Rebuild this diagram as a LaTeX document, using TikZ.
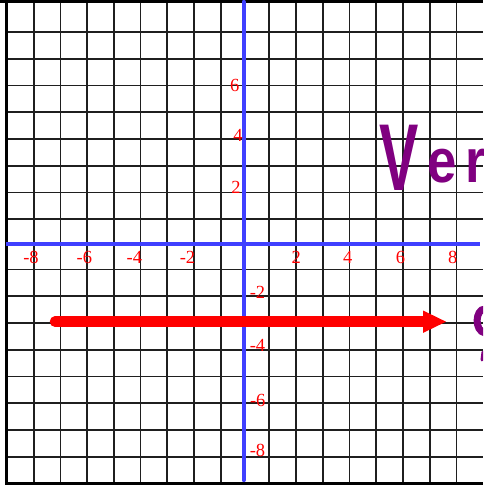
\documentclass[tikz,border=0pt]{standalone}
\usepackage{graphicx}
\usepackage{fontspec}
\setmainfont{Liberation Serif}
\newfontfamily\handfont{Liberation Sans}
\definecolor{axisblue}{RGB}{64,64,255}
\definecolor{inkpurple}{RGB}{128,0,128}
\begin{document}
\begin{tikzpicture}[x=1pt,y=-1pt,
  gridline/.style={line width=1.8pt, black!88},
  border/.style={line width=2.8pt, black},
  axisline/.style={line width=4.3pt, axisblue},
  lbl/.style={text=red, font=\fontsize{18.5}{18.5}\selectfont, inner sep=0pt, anchor=base},
  ink/.style={draw=inkpurple, line width=7pt, line cap=round}]
\useasboundingbox (0,0) rectangle (483,486);
\fill[white] (0,0) rectangle (483,486);
\begin{scope}
\clip (0,0) rectangle (483,486);
% vertical grid lines
\foreach \k in {1,...,8} \draw[gridline] ({7+26.71*\k},0) -- ({7+26.71*\k},484);
\foreach \k in {0,...,7} \draw[gridline] ({269.3+26.75*\k},0) -- ({269.3+26.75*\k},484);
% horizontal grid lines
\foreach \k in {0,...,7} \draw[gridline] (6.7,{32+26.76*\k}) -- (483,{32+26.76*\k});
\foreach \k in {0,...,7} \draw[gridline] (6.7,{269.5+26.75*\k}) -- (483,{269.5+26.75*\k});
% borders
\draw[border] (6.7,0) -- (6.7,485);
\draw[border, line width=3.2pt] (0,1.4) -- (483,1.4);
\draw[border] (5.3,483.6) -- (483,483.6);
% axes
\coordinate (xl) at (6,243.8);
\coordinate (xr) at (480,243.8);
\coordinate (yt) at (243.7,2);
\coordinate (yb) at (243.7,480);
\draw[axisline] (xl) -- (xr);
\draw[axisline, line cap=round] (yt) -- (yb);
% x-axis labels
\node[lbl] (xm8) at (31,263.5) {-8};
\node[lbl] (xm6) at (84.3,263.5) {-6};
\node[lbl] (xm4) at (134.3,263.5) {-4};
\node[lbl] (xm2) at (187.5,263.5) {-2};
\node[lbl] (xp2) at (296.2,263.5) {2};
\node[lbl] (xp4) at (347.7,263.5) {4};
\node[lbl] (xp6) at (400.5,263.5) {6};
\node[lbl] (xp8) at (452.8,263.5) {8};
% y-axis labels
\node[lbl] (yp6) at (234.7,91.7) {6};
\node[lbl] (yp4) at (238,141.7) {4};
\node[lbl] (yp2) at (236,193.3) {2};
\node[lbl] (ym2) at (257.5,298) {-2};
\node[lbl] (ym4) at (257.5,351) {-4};
\node[lbl] (ym6) at (257.7,406) {-6};
\node[lbl] (ym8) at (257.5,456.5) {-8};
% red vector
\coordinate (vs) at (55,321.7);
\coordinate (vb) at (424,321.7);
\coordinate (vt) at (446,321.7);
\draw[red, line width=10.5pt, line cap=round] (vs) -- (vb);
\fill[red] (423,310.5) -- (vt) -- (423,332.9) -- cycle;
% handwriting
\node[text=inkpurple, anchor=base west, inner sep=0pt] (ver) at (379,190)
  {\handfont\bfseries\fontsize{95}{95}\selectfont\scalebox{0.62}[1]{V}\hspace{9pt}\raisebox{8pt}{\fontsize{62}{62}\selectfont\scalebox{0.85}[1]{e}\hspace{9pt}\scalebox{0.85}[1]{r}}};
\draw[ink] (485,309) .. controls (475,309) and (474,331) .. (485,333);
\draw[ink, line width=3pt] (483,352) -- (482,360);
\end{scope}
\end{tikzpicture}
\end{document}
